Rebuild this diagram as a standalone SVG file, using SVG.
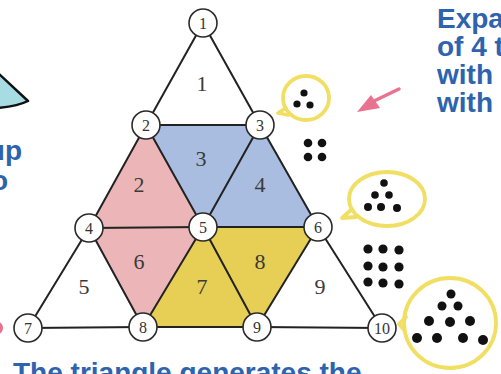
<svg xmlns="http://www.w3.org/2000/svg" width="501" height="374" viewBox="0 0 501 374">
<style>
.edge{stroke:#222;stroke-width:2;stroke-linecap:round}
.node circle{fill:#fff;stroke:#2a2a2a;stroke-width:1.6}
.node text{font-family:"Liberation Serif",serif;font-size:16px;fill:#333;text-anchor:middle}
.face text{font-family:"Liberation Serif",serif;font-size:22px;fill:#3a3a3a;text-anchor:middle}
.pink{fill:#ECB6B8}
.blue{fill:#A9BDE1}
.yellow{fill:#E7CE55}
.bubble{fill:none;stroke:#F0DF62;stroke-width:3.8;stroke-linecap:round;stroke-linejoin:round}
.dot{fill:#111}
.cap{font-family:"Liberation Sans",Arial,sans-serif;font-weight:bold;font-size:28px;fill:#2E63AE}
</style>
<rect width="501" height="374" fill="#fff"/>
<!-- left decorations -->
<path d="M-2,73 L28,101 Q18,106 -2,108 Z" fill="#A8DCE3" stroke="#111" stroke-width="2.5" stroke-linejoin="round"/>
<text class="cap" x="22" y="160" text-anchor="end">up</text>
<text class="cap" x="8" y="190" text-anchor="end">o</text>
<ellipse cx="-2" cy="328" rx="5" ry="6" fill="#E8728F"/>
<!-- right text -->
<text class="cap" x="437" y="28">Expa</text>
<text class="cap" x="437" y="56">of 4 t</text>
<text class="cap" x="437" y="84">with</text>
<text class="cap" x="437" y="112">with</text>
<text class="cap" x="13" y="382">The triangle generates the</text>
<!-- pink arrow -->
<g id="arrow">
<line x1="399" y1="89" x2="372" y2="102" stroke="#E8728F" stroke-width="3.5" stroke-linecap="round"/>
<polygon points="357,112 371,95 380,108" fill="#E8728F"/>
</g>
<!-- faces -->
<g class="face" id="faces">
<polygon class="pink" points="146,125 89,228 203,227"/>
<polygon class="pink" points="89,228 203,227 143,327"/>
<polygon class="blue" points="146,125 260,125 203,227"/>
<polygon class="blue" points="260,125 203,227 318,227"/>
<polygon class="yellow" points="203,227 143,327 257,327"/>
<polygon class="yellow" points="203,227 318,227 257,327"/>
<text x="202" y="91">1</text>
<text x="139" y="192">2</text>
<text x="201" y="166">3</text>
<text x="260" y="192">4</text>
<text x="84" y="294">5</text>
<text x="139" y="269">6</text>
<text x="202" y="294">7</text>
<text x="260" y="269">8</text>
<text x="320" y="294">9</text>
</g>
<!-- connectors -->
<g id="connectors">
<line class="edge" x1="203" y1="23" x2="146" y2="125"/>
<line class="edge" x1="146" y1="125" x2="89" y2="228"/>
<line class="edge" x1="89" y1="228" x2="28" y2="328"/>
<line class="edge" x1="203" y1="23" x2="260" y2="125"/>
<line class="edge" x1="260" y1="125" x2="318" y2="227"/>
<line class="edge" x1="318" y1="227" x2="382" y2="328"/>
<line class="edge" x1="146" y1="125" x2="260" y2="125"/>
<line class="edge" x1="89" y1="228" x2="203" y2="227"/>
<line class="edge" x1="203" y1="227" x2="318" y2="227"/>
<line class="edge" x1="28" y1="328" x2="143" y2="327"/>
<line class="edge" x1="143" y1="327" x2="257" y2="327"/>
<line class="edge" x1="257" y1="327" x2="382" y2="328"/>
<line class="edge" x1="146" y1="125" x2="203" y2="227"/>
<line class="edge" x1="203" y1="227" x2="257" y2="327"/>
<line class="edge" x1="260" y1="125" x2="203" y2="227"/>
<line class="edge" x1="203" y1="227" x2="143" y2="327"/>
<line class="edge" x1="89" y1="228" x2="143" y2="327"/>
<line class="edge" x1="318" y1="227" x2="257" y2="327"/>
</g>
<!-- nodes -->
<g class="node" id="n1"><circle cx="203" cy="23" r="14"/><text x="203" y="28.5">1</text></g>
<g class="node" id="n2"><circle cx="146" cy="125" r="14"/><text x="146" y="130.5">2</text></g>
<g class="node" id="n3"><circle cx="260" cy="125" r="14"/><text x="260" y="130.5">3</text></g>
<g class="node" id="n4"><circle cx="89" cy="228" r="14"/><text x="89" y="233.5">4</text></g>
<g class="node" id="n5"><circle cx="203" cy="227" r="14"/><text x="203" y="232.5">5</text></g>
<g class="node" id="n6"><circle cx="318" cy="227" r="14"/><text x="318" y="232.5">6</text></g>
<g class="node" id="n7"><circle cx="28" cy="328" r="14"/><text x="28" y="333.5">7</text></g>
<g class="node" id="n8"><circle cx="143" cy="327" r="14"/><text x="143" y="332.5">8</text></g>
<g class="node" id="n9"><circle cx="257" cy="327" r="14"/><text x="257" y="332.5">9</text></g>
<g class="node" id="n10"><circle cx="382" cy="328" r="14"/><text x="382" y="333.5">10</text></g>
<!-- dot figures -->
<g id="bubble3">
<ellipse class="bubble" cx="306" cy="98" rx="23" ry="22"/>
<path class="bubble" d="M286,108 L278,113 L288,115"/>
<circle class="dot" cx="304" cy="93" r="3.6"/>
<circle class="dot" cx="297" cy="104" r="3.6"/>
<circle class="dot" cx="310" cy="105" r="3.6"/>
</g>
<g id="square4">
<circle class="dot" cx="308" cy="143" r="4.3"/>
<circle class="dot" cx="322" cy="143" r="4.3"/>
<circle class="dot" cx="308" cy="157" r="4.3"/>
<circle class="dot" cx="322" cy="157" r="4.3"/>
</g>
<g id="bubble6">
<ellipse class="bubble" cx="387" cy="199" rx="38" ry="27"/>
<path class="bubble" d="M352,209 L342,218 L356,217"/>
<circle class="dot" cx="384" cy="183" r="3.8"/>
<circle class="dot" cx="375" cy="195" r="3.8"/>
<circle class="dot" cx="389" cy="195" r="3.8"/>
<circle class="dot" cx="368" cy="207" r="4"/>
<circle class="dot" cx="381" cy="207" r="4"/>
<circle class="dot" cx="397" cy="208" r="4"/>
</g>
<g id="square9">
<circle class="dot" cx="368" cy="249" r="4.6"/>
<circle class="dot" cx="383" cy="249" r="4.6"/>
<circle class="dot" cx="399" cy="250" r="4.6"/>
<circle class="dot" cx="368" cy="266" r="4.6"/>
<circle class="dot" cx="383" cy="267" r="4.6"/>
<circle class="dot" cx="399" cy="267" r="4.6"/>
<circle class="dot" cx="368" cy="282" r="4.6"/>
<circle class="dot" cx="383" cy="283" r="4.6"/>
<circle class="dot" cx="399" cy="284" r="4.6"/>
</g>
<g id="bubble10">
<ellipse class="bubble" cx="450" cy="323" rx="46" ry="45"/>
<path class="bubble" d="M406,317 L399,324 L405,331"/>
<circle class="dot" cx="451" cy="294" r="4.5"/>
<circle class="dot" cx="442" cy="306" r="4.5"/>
<circle class="dot" cx="458" cy="306" r="4.5"/>
<circle class="dot" cx="429" cy="321" r="5"/>
<circle class="dot" cx="450" cy="322" r="5"/>
<circle class="dot" cx="470" cy="321" r="5"/>
<circle class="dot" cx="417" cy="338" r="5"/>
<circle class="dot" cx="437" cy="338" r="5"/>
<circle class="dot" cx="463" cy="338" r="5"/>
<circle class="dot" cx="483" cy="340" r="5"/>
</g>
</svg>
